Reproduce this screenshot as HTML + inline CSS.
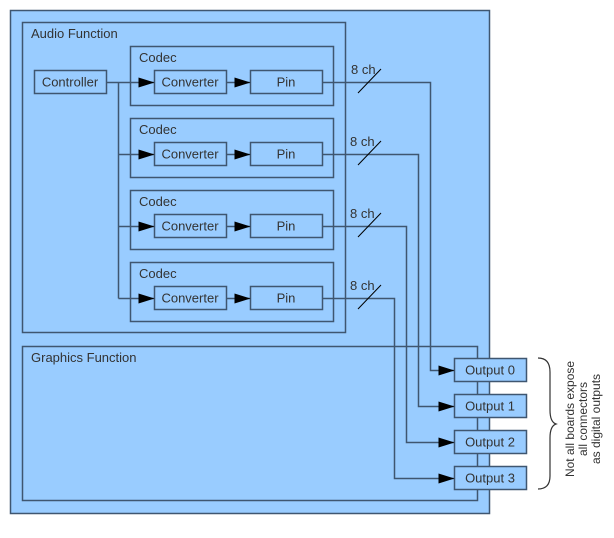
<!DOCTYPE html>
<html><head><style>html,body{margin:0;padding:0;background:#fff}svg{display:block}</style></head>
<body>
<svg width="614" height="538" viewBox="0 0 614 538" xmlns="http://www.w3.org/2000/svg" font-family="Liberation Sans, sans-serif" font-size="13" fill="#333">
<defs><marker id="a" markerWidth="16" markerHeight="10" refX="16" refY="5" orient="auto" markerUnits="userSpaceOnUse"><path d="M0,0 L16,5 L0,10 Z" fill="#000"/></marker></defs>
<g stroke="#3f5670" stroke-width="1.5" fill="#99ccff">
<rect x="10.5" y="10.5" width="479" height="503"/>
<rect x="22.5" y="22.5" width="323" height="310"/>
<rect x="22.5" y="346.5" width="455" height="154"/>
<rect x="34.5" y="70.5" width="72" height="23"/>
<rect x="130.5" y="46.5" width="203" height="59"/>
<rect x="130.5" y="118.5" width="203" height="59"/>
<rect x="130.5" y="190.5" width="203" height="59"/>
<rect x="130.5" y="262.5" width="203" height="59"/>
<rect x="154.5" y="70.5" width="72" height="23"/><rect x="250.5" y="70.5" width="72" height="23"/>
<rect x="154.5" y="142.5" width="72" height="23"/><rect x="250.5" y="142.5" width="72" height="23"/>
<rect x="154.5" y="214.5" width="72" height="23"/><rect x="250.5" y="214.5" width="72" height="23"/>
<rect x="154.5" y="286.5" width="72" height="23"/><rect x="250.5" y="286.5" width="72" height="23"/>
<rect x="454.5" y="358.5" width="72" height="23"/>
<rect x="454.5" y="394.5" width="72" height="23"/>
<rect x="454.5" y="430.5" width="72" height="23"/>
<rect x="454.5" y="466.5" width="72" height="23"/>
</g>
<g stroke="#3f5670" stroke-width="1.5" fill="none">
<path d="M106.5,82.5 H154.5" marker-end="url(#a)"/>
<path d="M118.5,82.5 V298.5"/>
<path d="M118.5,154.5 H154.5" marker-end="url(#a)"/>
<path d="M118.5,226.5 H154.5" marker-end="url(#a)"/>
<path d="M118.5,298.5 H154.5" marker-end="url(#a)"/>
<path d="M226.5,82.5 H250.5" marker-end="url(#a)"/>
<path d="M226.5,154.5 H250.5" marker-end="url(#a)"/>
<path d="M226.5,226.5 H250.5" marker-end="url(#a)"/>
<path d="M226.5,298.5 H250.5" marker-end="url(#a)"/>
<path d="M322.5,82.5 H430.5 V370.5 H454.5" marker-end="url(#a)"/>
<path d="M322.5,154.5 H418.5 V406.5 H454.5" marker-end="url(#a)"/>
<path d="M322.5,226.5 H406.5 V442.5 H454.5" marker-end="url(#a)"/>
<path d="M322.5,298.5 H394.5 V478.5 H454.5" marker-end="url(#a)"/>
</g>
<g stroke="#000" stroke-width="1">
<line x1="358" y1="93" x2="381" y2="69"/>
<line x1="358" y1="165" x2="381" y2="141"/>
<line x1="358" y1="237" x2="381" y2="213"/>
<line x1="358" y1="309" x2="381" y2="285"/>
</g>
<g>
<text x="31" y="38">Audio Function</text>
<text x="31" y="362">Graphics Function</text>
<text x="70" y="86.5" text-anchor="middle">Controller</text>
<text x="139" y="62">Codec</text><text x="139" y="134">Codec</text><text x="139" y="206">Codec</text><text x="139" y="278">Codec</text>
<text x="190" y="86.5" text-anchor="middle">Converter</text><text x="286" y="86.5" text-anchor="middle">Pin</text>
<text x="190" y="158.5" text-anchor="middle">Converter</text><text x="286" y="158.5" text-anchor="middle">Pin</text>
<text x="190" y="230.5" text-anchor="middle">Converter</text><text x="286" y="230.5" text-anchor="middle">Pin</text>
<text x="190" y="302.5" text-anchor="middle">Converter</text><text x="286" y="302.5" text-anchor="middle">Pin</text>
<text x="351" y="74">8 ch</text><text x="350" y="146">8 ch</text><text x="350" y="218">8 ch</text><text x="350" y="290">8 ch</text>
<text x="490" y="374.5" text-anchor="middle">Output 0</text>
<text x="490" y="410.5" text-anchor="middle">Output 1</text>
<text x="490" y="446.5" text-anchor="middle">Output 2</text>
<text x="490" y="482.5" text-anchor="middle">Output 3</text>
</g>
<path d="M538,358 Q550,358 550,372 V410 Q550,422 556,424 Q550,426 550,438 V476 Q550,489 538,489" stroke="#333" stroke-width="1.2" fill="none"/>
<g font-size="12" transform="rotate(-90)">
<text x="-419" y="574" text-anchor="middle">Not all boards expose</text>
<text x="-419" y="587" text-anchor="middle">all connectors</text>
<text x="-419" y="600" text-anchor="middle">as digital outputs</text>
</g>
</svg>
</body></html>
